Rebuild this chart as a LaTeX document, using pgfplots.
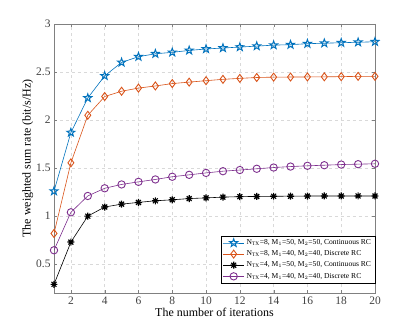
\documentclass[border=0pt]{standalone}
\usepackage{fontspec}
\setmainfont{Liberation Serif}
\usepackage{pgfplots}
\pgfplotsset{compat=1.18}

\definecolor{mblue}{rgb}{0,0.447,0.741}
\definecolor{morange}{rgb}{0.85,0.325,0.098}
\definecolor{mpurple}{rgb}{0.494,0.184,0.556}
\definecolor{axgray}{rgb}{0.5,0.5,0.5}

% MATLAB-like pentagram and 8-line star
\pgfdeclareplotmark{pentagram}{%
  \pgfpathmoveto{\pgfpointpolar{90}{\pgfplotmarksize}}%
  \pgfpathlineto{\pgfpointpolar{126}{0.4\pgfplotmarksize}}%
  \pgfpathlineto{\pgfpointpolar{162}{\pgfplotmarksize}}%
  \pgfpathlineto{\pgfpointpolar{198}{0.4\pgfplotmarksize}}%
  \pgfpathlineto{\pgfpointpolar{234}{\pgfplotmarksize}}%
  \pgfpathlineto{\pgfpointpolar{270}{0.4\pgfplotmarksize}}%
  \pgfpathlineto{\pgfpointpolar{306}{\pgfplotmarksize}}%
  \pgfpathlineto{\pgfpointpolar{342}{0.4\pgfplotmarksize}}%
  \pgfpathlineto{\pgfpointpolar{18}{\pgfplotmarksize}}%
  \pgfpathlineto{\pgfpointpolar{54}{0.4\pgfplotmarksize}}%
  \pgfpathclose
  \pgfusepathqstroke}
\pgfdeclareplotmark{mstar}{%
  \pgfpathmoveto{\pgfpoint{-\pgfplotmarksize}{0pt}}\pgfpathlineto{\pgfpoint{\pgfplotmarksize}{0pt}}%
  \pgfpathmoveto{\pgfpoint{0pt}{-\pgfplotmarksize}}\pgfpathlineto{\pgfpoint{0pt}{\pgfplotmarksize}}%
  \pgfpathmoveto{\pgfpoint{-0.7\pgfplotmarksize}{-0.7\pgfplotmarksize}}\pgfpathlineto{\pgfpoint{0.7\pgfplotmarksize}{0.7\pgfplotmarksize}}%
  \pgfpathmoveto{\pgfpoint{-0.7\pgfplotmarksize}{0.7\pgfplotmarksize}}\pgfpathlineto{\pgfpoint{0.7\pgfplotmarksize}{-0.7\pgfplotmarksize}}%
  \pgfusepathqstroke}

\begin{document}
\begin{tikzpicture}
\begin{axis}[
    name=ax,
    scale only axis,
    width=321bp, height=269bp,
    xmin=1, xmax=20,
    ymin=0.2, ymax=3,
    xtick={2,4,...,20},
    ytick={0.5,1,1.5,2,2.5,3},
    yticklabels={0.5,1,1.5,2,2.5,3},
    /pgf/number format/assume math mode=true,
    tick label style={font=\fontsize{11.5}{13}\selectfont, text=black!75},
    label style={font=\fontsize{12}{14}\selectfont},
    xlabel={The number of iterations},
    ylabel={The weighted sum rate (bit/s/Hz)},
    xlabel style={yshift=3pt},
    ylabel style={yshift=-4pt},
    axis line style={axgray},
    tick style={axgray},
    tick align=inside,
    major tick length=3pt,
    grid=major,
    major grid style={dashed, black!15},
    legend cell align=left,
    legend style={font=\fontsize{7.6}{8.5}\selectfont, draw=black, row sep=0.6pt,
      inner sep=1.8pt, at={(1,0.035)}, anchor=south east},
    legend image code/.code={%
      \draw[mark repeat=2,mark phase=2,#1] plot coordinates {(0cm,0cm) (0.38cm,0cm) (0.76cm,0cm)};},
]
\addplot[mblue, semithick, mark=pentagram, mark size=4.2pt, mark options={solid, line width=1pt}] coordinates {
(1,1.26)(2,1.87)(3,2.23)(4,2.46)(5,2.60)(6,2.66)(7,2.69)(8,2.705)(9,2.725)(10,2.74)
(11,2.75)(12,2.76)(13,2.77)(14,2.78)(15,2.785)(16,2.795)(17,2.80)(18,2.805)(19,2.81)(20,2.815)};
\addlegendentry{N$_{\mathrm{TX}}$=8, M$_1$=50, M$_2$=50, Continuous RC}
\addplot[morange, semithick, mark=diamond, mark size=4pt, mark options={line width=0.9pt}] coordinates {
(1,0.82)(2,1.555)(3,2.05)(4,2.245)(5,2.30)(6,2.333)(7,2.355)(8,2.38)(9,2.395)(10,2.41)
(11,2.424)(12,2.434)(13,2.443)(14,2.447)(15,2.448)(16,2.449)(17,2.45)(18,2.452)(19,2.455)(20,2.455)};
\addlegendentry{N$_{\mathrm{TX}}$=8, M$_1$=40, M$_2$=40, Discrete RC}
\addplot[black, semithick, mark=mstar, mark size=3.5pt, mark options={line width=1.2pt}] coordinates {
(1,0.29)(2,0.73)(3,1.0)(4,1.095)(5,1.125)(6,1.143)(7,1.16)(8,1.17)(9,1.183)(10,1.19)
(11,1.198)(12,1.203)(13,1.205)(14,1.207)(15,1.208)(16,1.209)(17,1.21)(18,1.21)(19,1.21)(20,1.21)};
\addlegendentry{N$_{\mathrm{TX}}$=4, M$_1$=50, M$_2$=50, Continuous RC}
\addplot[mpurple, semithick, mark=o, mark size=3.7pt, mark options={line width=0.9pt}] coordinates {
(1,0.645)(2,1.04)(3,1.21)(4,1.29)(5,1.33)(6,1.357)(7,1.382)(8,1.41)(9,1.43)(10,1.45)
(11,1.468)(12,1.48)(13,1.493)(14,1.506)(15,1.516)(16,1.524)(17,1.53)(18,1.537)(19,1.541)(20,1.545)};
\addlegendentry{N$_{\mathrm{TX}}$=4, M$_1$=40, M$_2$=40, Discrete RC}
\end{axis}
\path ([shift={(-54bp,-34bp)}]ax.south west) rectangle ([shift={(40bp,24bp)}]ax.north east);
\end{tikzpicture}
\end{document}
